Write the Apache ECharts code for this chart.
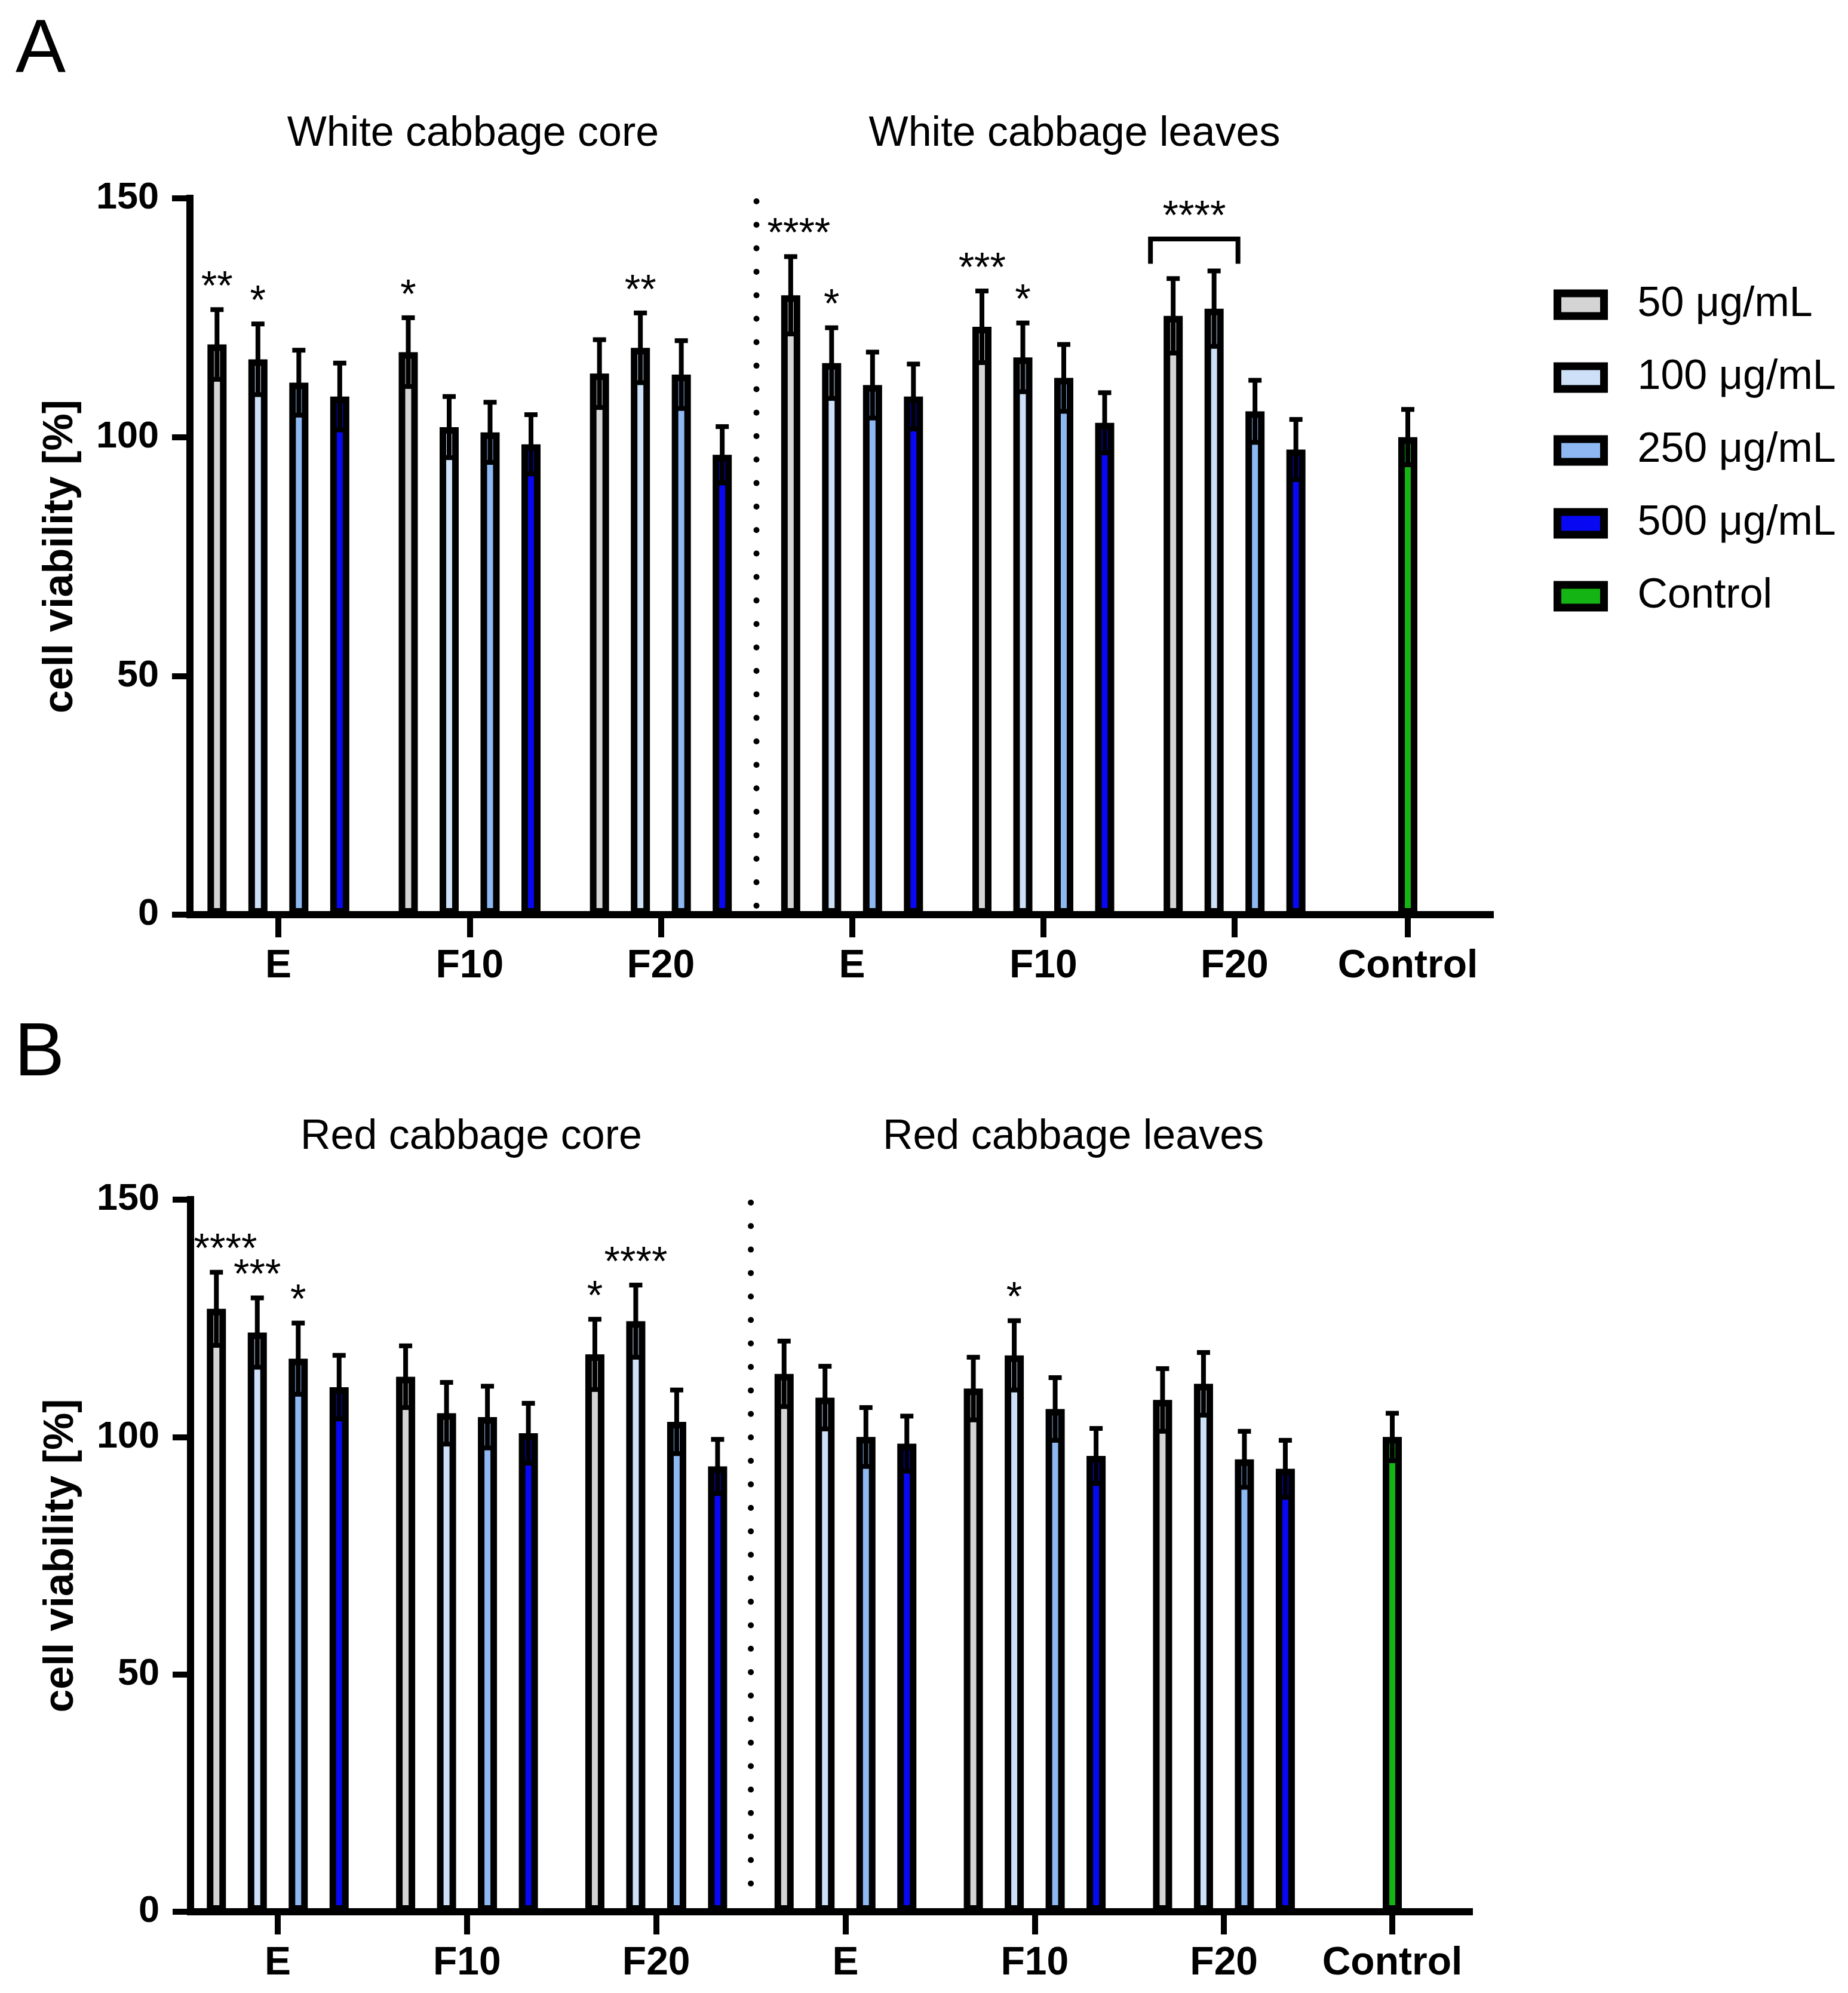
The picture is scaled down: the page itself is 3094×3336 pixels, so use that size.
<!DOCTYPE html>
<html><head><meta charset="utf-8">
<script src="https://cdn.jsdelivr.net/npm/echarts@6/dist/echarts.min.js"></script>
<style>html,body{margin:0;padding:0;background:#fff}#c{width:3094px;height:3336px}</style>
</head><body><div id="c"></div>
<script>
// ---------- data ----------
const groups = ['E', 'F10', 'F20', 'E', 'F10', 'F20'];
const controlCategory = ['Control'];
const concNames = ['50 μg/mL', '100 μg/mL', '250 μg/mL', '500 μg/mL'];
const controlName = 'Control';
const panelLetters = ['A', 'B'];
const panelTitlesA = ['White cabbage core', 'White cabbage leaves'];
const panelTitlesB = ['Red cabbage core', 'Red cabbage leaves'];
const yAxisTitle = 'cell viability [%]';
const yMin = 0, yMax = 150, yInterval = 50;

// Panel A means / SD
const A_50 = [119.4, 117.8, 113.3, 129.7, 123.1, 125.4];
const A_100 = [116.3, 102.1, 118.7, 115.5, 116.7, 126.9];
const A_250 = [111.4, 101.0, 113.1, 110.9, 112.4, 105.4];
const A_500 = [108.5, 98.5, 96.3, 108.5, 103.0, 97.4];
const A_ctrl = [100];
const A_50_sd = [7.3, 7.2, 7.1, 8.1, 7.5, 7.8];
const A_100_sd = [7.4, 6.4, 7.3, 7.4, 7.2, 7.9];
const A_250_sd = [6.8, 6.3, 7.1, 6.9, 7.0, 6.5];
const A_500_sd = [7.0, 6.2, 5.9, 6.8, 6.3, 6.3];
const A_ctrl_sd = [5.8];
const A_sig_50 = ['**', '*', '', '****', '***', ''];
const A_sig_100 = ['*', '', '**', '*', '*', ''];
const A_sig_250 = ['', '', '', '', '', ''];
const A_sig_500 = ['', '', '', '', '', ''];
// bracket: [group, fromBar, toBar, bracketValue, legValue, label]
const A_bracket = [5, 0, 1, 141.5, 136.3, '****'];

// Panel B means / SD
const B_50 = [127.0, 112.7, 117.4, 113.3, 110.2, 107.8];
const B_100 = [122.0, 105.0, 124.4, 108.3, 117.2, 111.2];
const B_250 = [116.5, 104.2, 103.2, 100.0, 105.9, 95.3];
const B_500 = [110.5, 100.8, 93.8, 98.6, 96.0, 93.3];
const B_ctrl = [100];
const B_50_sd = [7.7, 6.5, 7.4, 6.9, 6.6, 6.6];
const B_100_sd = [7.3, 6.5, 7.6, 6.6, 7.3, 6.6];
const B_250_sd = [7.5, 6.5, 6.7, 6.2, 6.6, 5.9];
const B_500_sd = [6.7, 6.3, 5.7, 5.8, 5.8, 6.0];
const B_ctrl_sd = [5.0];
const B_sig_50 = ['****', '', '*', '', '', ''];
const B_sig_100 = ['***', '', '****', '', '*', ''];
const B_sig_250 = ['*', '', '', '', '', ''];
const B_sig_500 = ['', '', '', '', '', ''];

const dividerAfterGroup = 2;

// ---------- style / layout ----------
const FONT = '"Liberation Sans", Arial, Helvetica, sans-serif';
const colors = ['#d4d4d4', '#cde0f8', '#8db8f2', '#0808f2'];
const controlColor = '#14b414';
const BAR_W = 32, PITCH = 68.5, BORDER = 11;
const BAR_GAP = ((PITCH - BAR_W) / BAR_W * 100).toFixed(2) + '%';
const ERR_W = 8, CAP_HALF = 11;
const SIG_SIZE = 68, SIG_UP = 36, SIG_CHAR_W = 0.389, SIG_CLEAR = 18;

const layouts = [
  {top: 332, height: 1199, visLeft: 318, visWidth: 2177, barsLeft: 306, barsWidth: 1921, ctrlLeft: 2197, ctrlWidth: 320},
  {top: 2008, height: 1192, visLeft: 319, visWidth: 2141, barsLeft: 306.6, barsWidth: 1901, ctrlLeft: 2171, ctrlWidth: 320}
];

const panels = [
  {means: [A_50, A_100, A_250, A_500], sds: [A_50_sd, A_100_sd, A_250_sd, A_500_sd], sigs: [A_sig_50, A_sig_100, A_sig_250, A_sig_500], ctrl: A_ctrl, ctrlSd: A_ctrl_sd, bracket: A_bracket},
  {means: [B_50, B_100, B_250, B_500], sds: [B_50_sd, B_100_sd, B_250_sd, B_500_sd], sigs: [B_sig_50, B_sig_100, B_sig_250, B_sig_500], ctrl: B_ctrl, ctrlSd: B_ctrl_sd, bracket: null}
];

const grid = [], xAxis = [], yAxis = [], series = [];

function sigText(s, x, y) {
  return {type: 'text', style: {text: s, x: x, y: y, align: 'center', verticalAlign: 'middle',
    fill: '#000', font: 'normal ' + SIG_SIZE + 'px ' + FONT}};
}

function errRender(offsetPx, sigArr) {
  return function (params, api) {
    const gi = api.value(0), m = api.value(1), sd = api.value(2);
    const c = api.coord([gi, m]);
    const x = c[0] + offsetPx;
    const yt = api.coord([gi, m + sd])[1];
    const yb = api.coord([gi, m - sd])[1];
    const st = {stroke: '#000', lineWidth: ERR_W};
    const children = [
      {type: 'line', shape: {x1: x, y1: yt, x2: x, y2: yb}, style: st},
      {type: 'line', shape: {x1: x - CAP_HALF, y1: yt, x2: x + CAP_HALF, y2: yt}, style: st},
      {type: 'line', shape: {x1: x - CAP_HALF, y1: yb, x2: x + CAP_HALF, y2: yb}, style: st}
    ];
    const s = sigArr ? sigArr[params.dataIndex] : '';
    if (s) {
      // keep the label clear of the category's left boundary (axis / divider)
      const catLeft = c[0] - api.size([1, 0])[0] / 2;
      const half = s.length * SIG_CHAR_W * SIG_SIZE / 2;
      const tx = Math.max(x, catLeft + SIG_CLEAR + half);
      children.push(sigText(s, tx, yt - SIG_UP));
    }
    return {type: 'group', children: children};
  };
}

function dividerRender(params, api) {
  const gi = api.value(0);
  const a = api.coord([gi, yMax]), b = api.coord([gi + 1, yMax]), z = api.coord([gi, yMin]);
  const x = (a[0] + b[0]) / 2;
  return {type: 'line', shape: {x1: x, y1: a[1] + 5, x2: x, y2: z[1] - 8},
    style: {stroke: '#000', lineWidth: 10, lineDash: [0.001, 39.3], lineCap: 'round'}};
}

function bracketRender(br) {
  return function (params, api) {
    const gi = br[0];
    const c = api.coord([gi, br[3]]);
    const x1 = c[0] + (br[1] - 1.5) * PITCH - 38;
    const x2 = c[0] + (br[2] - 1.5) * PITCH + 40;
    const y = c[1];
    const yl = api.coord([gi, br[4]])[1];
    const st = {stroke: '#000', lineWidth: 8, fill: 'none', lineJoin: 'miter'};
    return {type: 'group', children: [
      {type: 'polyline', shape: {points: [[x1, yl], [x1, y], [x2, y], [x2, yl]]}, style: st},
      sigText(br[5], (x1 + x2) / 2, y - SIG_UP)
    ]};
  };
}

panels.forEach(function (p, pi) {
  const L = layouts[pi];
  const base = pi * 3;
  grid.push({left: L.visLeft, top: L.top, width: L.visWidth, height: L.height});
  grid.push({left: L.barsLeft, top: L.top, width: L.barsWidth, height: L.height});
  grid.push({left: L.ctrlLeft, top: L.top, width: L.ctrlWidth, height: L.height});

  xAxis.push({gridIndex: base, type: 'value', min: 0, max: 1,
    axisLine: {show: true, onZero: false, lineStyle: {color: '#000', width: 12, cap: 'square'}},
    axisTick: {show: false}, axisLabel: {show: false}, splitLine: {show: false}});
  yAxis.push({gridIndex: base, type: 'value', min: yMin, max: yMax, interval: yInterval,
    axisLine: {show: true, lineStyle: {color: '#000', width: 12, cap: 'square'}},
    axisTick: {show: true, length: 30, lineStyle: {color: '#000', width: 10}},
    axisLabel: {color: '#000', fontSize: 63, fontWeight: 'bold', fontFamily: FONT, margin: 52},
    splitLine: {show: false},
    name: yAxisTitle, nameLocation: 'middle', nameRotate: 90, nameGap: 181,
    nameTextStyle: {color: '#000', fontSize: 70, fontWeight: 'bold', fontFamily: FONT}});

  const catAxisCommon = {
    axisLine: {show: false},
    axisTick: {show: true, alignWithLabel: true, length: 38, lineStyle: {color: '#000', width: 10}},
    axisLabel: {color: '#000', fontSize: 66, fontWeight: 'bold', fontFamily: FONT, margin: 54, interval: 0},
    splitLine: {show: false}
  };
  xAxis.push(Object.assign({gridIndex: base + 1, type: 'category', data: groups, boundaryGap: true}, catAxisCommon));
  yAxis.push({gridIndex: base + 1, type: 'value', min: yMin, max: yMax, show: false});
  xAxis.push(Object.assign({gridIndex: base + 2, type: 'category', data: controlCategory, boundaryGap: true}, catAxisCommon));
  yAxis.push({gridIndex: base + 2, type: 'value', min: yMin, max: yMax, show: false});

  concNames.forEach(function (nm, si) {
    series.push({type: 'bar', name: nm, xAxisIndex: base + 1, yAxisIndex: base + 1,
      data: p.means[si], barWidth: BAR_W, barGap: BAR_GAP, z: 2,
      itemStyle: {color: colors[si], borderColor: '#000', borderWidth: BORDER},
      emphasis: {disabled: true}, animation: false});
  });
  series.push({type: 'bar', name: controlName, xAxisIndex: base + 2, yAxisIndex: base + 2,
    data: p.ctrl, barWidth: BAR_W, z: 2,
    itemStyle: {color: controlColor, borderColor: '#000', borderWidth: BORDER},
    emphasis: {disabled: true}, animation: false});

  concNames.forEach(function (nm, si) {
    series.push({type: 'custom', xAxisIndex: base + 1, yAxisIndex: base + 1, z: 3, silent: true,
      renderItem: errRender((si - 1.5) * PITCH, p.sigs[si]),
      data: p.means[si].map(function (m, gi) { return [gi, m, p.sds[si][gi]]; }), animation: false});
  });
  series.push({type: 'custom', xAxisIndex: base + 2, yAxisIndex: base + 2, z: 3, silent: true,
    renderItem: errRender(0, null),
    data: p.ctrl.map(function (m, gi) { return [gi, m, p.ctrlSd[gi]]; }), animation: false});

  series.push({type: 'custom', xAxisIndex: base + 1, yAxisIndex: base + 1, z: 3, silent: true,
    renderItem: dividerRender, data: [[dividerAfterGroup, yMax]], animation: false});

  if (p.bracket) {
    series.push({type: 'custom', xAxisIndex: base + 1, yAxisIndex: base + 1, z: 3, silent: true,
      renderItem: bracketRender(p.bracket), data: [[p.bracket[0], p.bracket[3]]], animation: false});
  }
});

const titleStyle = function (size) { return {color: '#000', fontSize: size, fontWeight: 'normal', fontFamily: FONT}; };
const title = [
  {text: panelLetters[0], left: 26, top: 22, padding: 0, textStyle: titleStyle(126)},
  {text: panelLetters[1], left: 24, top: 1702, padding: 0, textStyle: titleStyle(126)},
  {text: panelTitlesA[0], left: 792, top: 190, padding: 0, textAlign: 'center', textStyle: titleStyle(70)},
  {text: panelTitlesA[1], left: 1799, top: 190, padding: 0, textAlign: 'center', textStyle: titleStyle(70)},
  {text: panelTitlesB[0], left: 789, top: 1869, padding: 0, textAlign: 'center', textStyle: titleStyle(70)},
  {text: panelTitlesB[1], left: 1797, top: 1869, padding: 0, textAlign: 'center', textStyle: titleStyle(70)}
];

const chart = echarts.init(document.getElementById('c'), null, {renderer: 'canvas'});
chart.setOption({
  backgroundColor: '#fff',
  animation: false,
  title: title,
  legend: {
    orient: 'vertical', left: 2601, top: 475, padding: 0,
    icon: 'rect', itemWidth: 78, itemHeight: 38, itemGap: 52,
    data: concNames.concat([controlName]),
    itemStyle: {borderColor: '#000', borderWidth: 13},
    textStyle: {color: '#000', fontSize: 70, lineHeight: 70, fontFamily: FONT, padding: [0, 0, 0, 51]},
    selectedMode: false
  },
  grid: grid, xAxis: xAxis, yAxis: yAxis, series: series
});
</script></body></html>
